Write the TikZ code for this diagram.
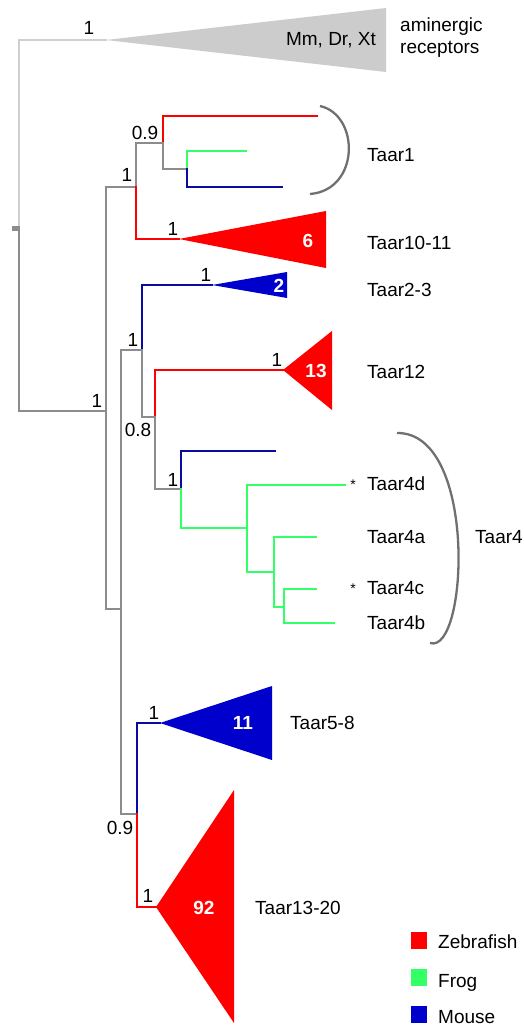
\documentclass[tikz,border=0pt]{standalone}
\usepackage{fontspec}
\setmainfont{Liberation Sans}
\definecolor{zred}{HTML}{FF0000}
\definecolor{fgreen}{HTML}{33FF66}
\definecolor{mblue}{HTML}{0000CC}
\definecolor{mline}{HTML}{0A0AA0}
\definecolor{tgray}{HTML}{8C8C8C}
\definecolor{lgray}{HTML}{CCCCCC}
\definecolor{lline}{HTML}{D0D0D0}
\definecolor{bgray}{HTML}{707070}
\tikzset{
  br/.style={line width=2.3pt, line cap=rect, line join=miter},
  gbr/.style={br, line width=2.6pt, draw=tgray},
  rbr/.style={br, draw=zred},
  fbr/.style={br, draw=fgreen},
  mbr/.style={br, draw=mline},
  lbr/.style={br, draw=lline},
  lbl/.style={inner sep=0pt, anchor=base west, font=\fontsize{19}{22}\selectfont},
  sup/.style={inner sep=0pt, anchor=base, font=\fontsize{19}{22}\selectfont},
  cnt/.style={inner sep=0pt, anchor=base, text=white, font=\fontsize{19}{22}\selectfont\bfseries},
  brk/.style={draw=bgray, line width=2.3pt},
  ast/.style={inner sep=0pt, font=\fontsize{14}{16}\selectfont},
}
\begin{document}
\begin{tikzpicture}[x=1pt,y=-1pt]
\useasboundingbox (0,0) rectangle (523,1025);
% root
\draw[lbr] (106,40) -- (19,40) -- (19,228);
\fill[tgray] (12,226) rectangle (20,231);
\draw[gbr] (19,228) -- (19,411) -- (106,411);
\fill[lgray] (106,40) -- (386,8) -- (386,72) -- cycle;
% main clade
\draw[gbr] (136,187) -- (106,187) -- (106,609) -- (121,609);
% Taar1 / Taar10-11
\draw[gbr] (163,143) -- (136,143) -- (136,187);
\draw[rbr] (136,187) -- (136,239) -- (179,239);
\draw[rbr] (163,143) -- (163,116) -- (317,116);
\draw[gbr] (163,143) -- (163,169) -- (187,169);
\draw[fbr] (187,169) -- (187,151) -- (246,151);
\draw[mbr] (187,169) -- (187,187) -- (282,187);
\fill[zred] (179,239) -- (326,211) -- (326,268) -- cycle;
% lower clade
\draw[gbr] (142,350) -- (121,350) -- (121,814) -- (137,814);
\draw[mbr] (142,350) -- (142,285) -- (212,285);
\draw[gbr] (142,350) -- (142,417) -- (155,417);
\fill[mblue] (212,285) -- (287,272) -- (287,298) -- cycle;
\draw[rbr] (155,417) -- (155,370) -- (283,370);
\draw[gbr] (155,417) -- (155,489) -- (181,489);
\fill[zred] (283,370) -- (332,331) -- (332,410) -- cycle;
\draw[mbr] (181,489) -- (181,451) -- (275,451);
\draw[fbr] (181,489) -- (181,528) -- (247,528);
\draw[fbr] (345,485) -- (247,485) -- (247,572) -- (274,572);
\draw[fbr] (316,537) -- (274,537) -- (274,607) -- (284,607);
\draw[fbr] (316,589) -- (284,589) -- (284,623) -- (334,623);
% Taar5-8 / Taar13-20
\draw[mbr] (137,814) -- (137,723) -- (160,723);
\draw[rbr] (137,814) -- (137,907) -- (156,907);
\fill[mblue] (160,723) -- (272,686) -- (272,760) -- cycle;
\fill[zred] (156,907) -- (234,790) -- (234,1023) -- cycle;
% brackets
\draw[brk] (320,106) .. controls (360,115) and (360,190) .. (310,194);
\draw[brk] (397,433) .. controls (478,432) and (468,655) .. (430,643);
% support values
\node[sup] (s0) at (89,35) {1};
\node[sup] (s1) at (145,139) {0.9};
\node[sup] (s2) at (127,181) {1};
\node[sup] (s3) at (173,235) {1};
\node[sup] (s4) at (97,407) {1};
\node[sup] (s5) at (206,281) {1};
\node[sup] (s6) at (133,346) {1};
\node[sup] (s7) at (277,366) {1};
\node[sup] (s8) at (138,436) {0.8};
\node[sup] (s9) at (173,486) {1};
\node[sup] (s10) at (120,834) {0.9};
\node[sup] (s11) at (154,719) {1};
\node[sup] (s12) at (148,902) {1};
% counts
\node[cnt] (c6) at (308,247) {6};
\node[cnt] (c2) at (279,292) {2};
\node[cnt] (c13) at (316,377) {13};
\node[cnt] (c11) at (243,729) {11};
\node[cnt] (c92) at (204,914) {92};
% labels
\node[lbl, anchor=base east] (mm) at (376,46) {Mm, Dr, Xt};
\node[lbl] (am1) at (400,32) {aminergic};
\node[lbl] (am2) at (400,54) {receptors};
\node[lbl] (t1) at (367,161) {Taar1};
\node[lbl] (t10) at (367,249) {Taar10-11};
\node[lbl] (t2) at (367,296) {Taar2-3};
\node[lbl] (t12) at (367,378) {Taar12};
\node[lbl] (t4d) at (367,490) {Taar4d};
\node[lbl] (t4a) at (367,543) {Taar4a};
\node[lbl] (t4c) at (367,594) {Taar4c};
\node[lbl] (t4b) at (367,629) {Taar4b};
\node[lbl] (t4) at (475,543) {Taar4};
\node[ast] (a1) at (353,485) {*};
\node[ast] (a2) at (353,589) {*};
\node[lbl] (t5) at (290,729) {Taar5-8};
\node[lbl] (t13) at (255,914) {Taar13-20};
% legend
\fill[zred] (411,932) rectangle (427,949);
\fill[fgreen] (411,969) rectangle (427,986);
\fill[mblue] (411,1006) rectangle (427,1023);
\node[lbl] (lz) at (438,948) {Zebrafish};
\node[lbl] (lf) at (438,987) {Frog};
\node[lbl] (lm) at (438,1023) {Mouse};
\end{tikzpicture}
\end{document}
